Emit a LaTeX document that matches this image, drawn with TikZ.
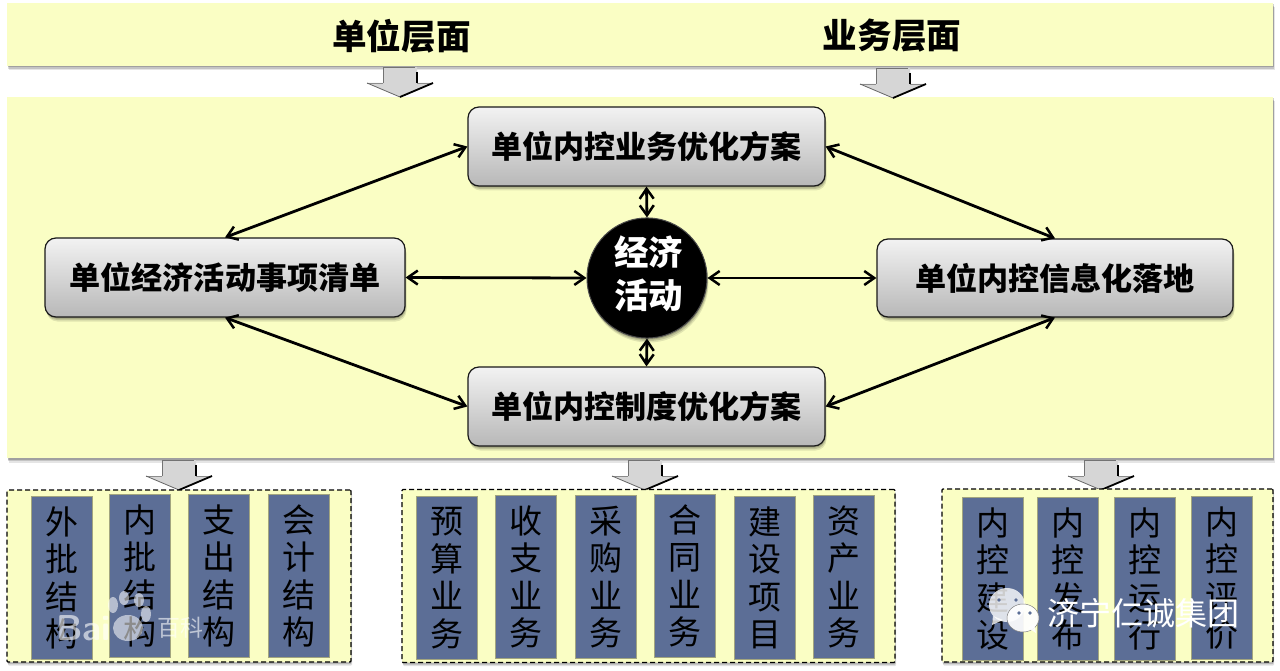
\documentclass[tikz,border=0pt]{standalone}
\usepackage{fontspec}
\setmainfont{Noto Sans CJK SC}
\usetikzlibrary{arrows.meta,shapes.geometric}
\definecolor{pale}{HTML}{FAFEC4}
\definecolor{colblue}{HTML}{5C6E96}
\tikzset{
  softshadow/.style={
    preaction={draw=none,fill=black,fill opacity=.10,transform canvas={xshift=1.5pt,yshift=-4.5pt}},
    preaction={draw=none,fill=black,fill opacity=.14,transform canvas={xshift=1pt,yshift=-3pt}},
    preaction={draw=none,fill=black,fill opacity=.18,transform canvas={xshift=.5pt,yshift=-1.5pt}}},
  band/.style={fill=pale,draw=none,rectangle,inner sep=0pt,softshadow},
  flowbox/.style={rectangle,rounded corners=11pt,draw=black!90,line width=1.2pt,top color=black!5,bottom color=black!28,minimum width=357pt,minimum height=79pt,inner sep=0pt,font=\fontsize{31.1}{36}\selectfont\bfseries,softshadow},
  hub/.style={ellipse,fill=black,draw=black!70,line width=1pt,minimum width=120pt,minimum height=110pt,inner sep=0pt,text=white,softshadow,font=\fontsize{34.5}{41}\selectfont\bfseries},
  dashbox/.style={rectangle,fill=pale,draw=black,line width=1.3pt,dash pattern=on 5pt off 3pt,rounded corners=1pt,inner sep=0pt,
    preaction={draw=none,fill=black,fill opacity=.12,transform canvas={xshift=1pt,yshift=-3.5pt}},
    preaction={draw=none,fill=black,fill opacity=.18,transform canvas={xshift=.5pt,yshift=-2pt}}},
  colbox/.style={rectangle,fill=colblue,draw=black!35!pale,line width=1pt,minimum width=61pt,minimum height=163pt,inner sep=0pt,anchor=north west,align=center,text width=61pt,font=\fontsize{33}{37.5}\selectfont},
  link/.style={{Straight Barb[length=10pt,width=14pt,line width=2.5pt]}-{Straight Barb[length=10pt,width=14pt,line width=2.5pt]},line width=2.8pt,black},
  headtitle/.style={font=\fontsize{34.6}{40}\selectfont\bfseries},
  mark paw/.style={fill=white,fill opacity=.55,draw=none},
  mark text/.style={text=white,text opacity=.6},
}
\newcommand{\blockdown}[1]{%
  \begin{scope}[shift={(#1)}]
    \fill[black!16] (-17,0) -- (17,0) -- (17,16) -- (33,16) -- (0,30) -- (-33,16) -- (-17,16) -- cycle;
    \draw[black!55,line width=.8pt] (-17,16) -- (-17,0) -- (15,0);
    \draw[black,line width=1.3pt] (17,5) -- (17,16);
    \draw[black!45,line width=.8pt] (-33,16) -- (-17,16) (17,16) -- (30,16);
    \draw[black!60,line width=.8pt] (-33,16) -- (0,30);
    \draw[black,line width=1.8pt] (0,30) -- (33,16);
  \end{scope}}
\newcommand{\colnode}[5]{\node[colbox] (#1) at (#2,#3) {#4\\#5};}
\begin{document}
\begin{tikzpicture}[x=1pt,y=-1pt]
\useasboundingbox (0,0) rectangle (1280,671);
\fill[white] (0,0) rectangle (1280,671);
% bands
\node[band,minimum width=1266pt,minimum height=63pt] (topband) at (640,34.5) {};
\node[band,minimum width=1266pt,minimum height=361pt] (mainband) at (640,277.5) {};
\node[headtitle] (t1) at (401.5,36) {单位层面};
\node[headtitle] (t2) at (892,36) {业务层面};
% block arrows
\blockdown{400,67}
\blockdown{893,68}
\blockdown{179,460}
\blockdown{645,460}
\blockdown{1101,460}
% main nodes
\node[flowbox] (top) at (646.5,146.5) {单位内控业务优化方案};
\node[flowbox,minimum width=360pt] (left) at (225,277.5) {单位经济活动事项清单};
\node[flowbox,minimum width=356pt,minimum height=78pt] (right) at (1055,278) {单位内控信息化落地};
\node[flowbox] (bottom) at (646.5,406.5) {单位内控制度优化方案};
\node[hub] (hub) at (647,278) {\hspace*{3pt}\raisebox{2pt}{\begin{tabular}{@{}c@{}}经济\\[1pt]活动\end{tabular}}};
% connectors
\draw[link] (top.west) -- (left.north);
\draw[link] (top.east) -- (right.north);
\draw[link] (bottom.west) -- (left.south);
\draw[link] (bottom.east) -- (right.south);
\draw[link] (left.east) -- (hub.west);
\draw[link] (right.west) -- (hub.east);
\draw[link] (top.south) -- (hub.north);
\draw[link] (bottom.north) -- (hub.south);
% dashed groups
\node[dashbox,minimum width=344pt,minimum height=172pt] (g1) at (179,576) {};
\node[dashbox,minimum width=493pt,minimum height=173pt] (g2) at (648.5,576) {};
\node[dashbox,minimum width=331pt,minimum height=173pt] (g3) at (1107.5,575.5) {};
% columns
\colnode{a1}{31}{496}{外\\批}{结\\构}
\colnode{a2}{109}{494}{内\\批}{结\\构}
\colnode{a3}{188}{494}{支\\出}{结\\构}
\colnode{a4}{268}{494}{会\\计}{结\\构}
\colnode{b1}{416}{496}{预\\算}{业\\务}
\colnode{b2}{495}{495}{收\\支}{业\\务}
\colnode{b3}{575}{495}{采\\购}{业\\务}
\colnode{b4}{654}{494}{合\\同}{业\\务}
\colnode{b5}{734}{496}{建\\设}{项\\目}
\colnode{b6}{813}{495}{资\\产}{业\\务}
\colnode{c1}{962}{497}{内\\控}{建\\设}
\colnode{c2}{1037}{497}{内\\控}{发\\布}
\colnode{c3}{1114}{497}{内\\控}{运\\行}
\colnode{c4}{1191}{496}{内\\控}{评\\价}
% watermark: Baidu
\fill[mark paw] (113,605) ellipse (5 and 8);
\fill[mark paw] (124,598) ellipse (5 and 7);
\fill[mark paw] (139,600) ellipse (5 and 7);
\fill[mark paw] (146,614) ellipse (5 and 8);
\fill[mark paw] (128,628) ellipse (15 and 13);
\node[mark text,font=\fontsize{36}{40}\selectfont\sffamily\bfseries,anchor=west,inner sep=0pt] (baidu) at (56,628) {Bai};
\node[mark text,font=\fontsize{23}{28}\selectfont,anchor=west,inner sep=0pt] (baike) at (157,628) {百科};
% watermark: WeChat
\fill[white,fill opacity=.8] (1007,605) ellipse (18 and 17);
\fill[white,fill opacity=.8] (993,616) -- (992,625) -- (1003,620) -- cycle;
\fill[white,fill opacity=.92,draw=black!50,line width=.5pt] (1023,618) ellipse (16 and 14);
\fill[white,fill opacity=.92] (1028,628) -- (1036,633) -- (1034,624) -- cycle;
\fill[colblue] (999,600) circle (1.8) (1016,600) circle (1.8) (1019,613) circle (1.8) (1030,613) circle (1.8);
\node[text=white,font=\fontsize{32}{36}\selectfont,anchor=west,inner sep=0pt] (wx) at (1047,613) {济宁仁诚集团};
\end{tikzpicture}
\end{document}
